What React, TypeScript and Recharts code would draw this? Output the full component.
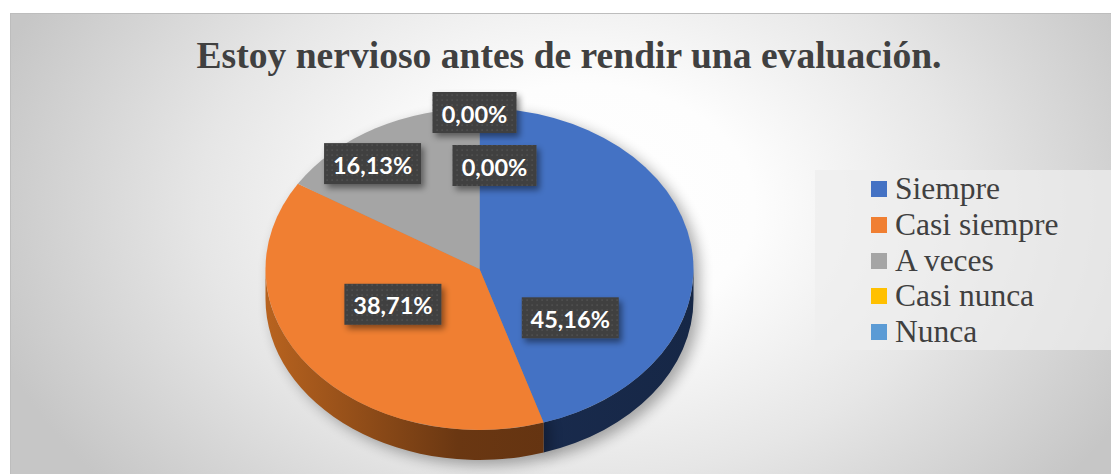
import React from 'react';
import { PieChart, Pie, Legend } from 'recharts';

// ---- data ----
const categories = ['Siempre', 'Casi siempre', 'A veces', 'Casi nunca', 'Nunca'];
const percentages = [45.16, 38.71, 16.13, 0, 0];
const chartTitle = 'Estoy nervioso antes de rendir una evaluación.';

// ---- styles ----
const topColors = ['#4472C4', '#F07F32', '#A5A5A5', '#FFC000', '#5B9BD5'];
const sideStops = [
  ['#22396a', '#1a2c50', '#162746'],
  ['#b8631f', '#6a3712', '#5c2f10'],
  ['#7a7a7a', '#5a5a5a', '#4d4d4d'],
  ['#b38600', '#8a6800', '#7a5c00'],
  ['#3f6d96', '#2f5373', '#284763'],
];
const labelNudge = [
  [-15, 61],
  [-2, -14],
  [-55, -35],
  [-5, -76],
  [15, -23],
];

const W = 1101;
const H = 461;
const CX = 469.5;
const CY = 256;
const RX = 214;
const RY = 161;
const K = RY / RX;
const DEPTH = 30;
const rad = Math.PI / 180;

const data = categories.map((name, i) => ({ name, value: percentages[i] }));

const pt = (cx: number, cy: number, r: number, a: number): [number, number] => [
  cx + r * Math.cos(a * rad),
  cy - r * K * Math.sin(a * rad),
];

const idxOf = (p: any) => {
  const n = p?.payload?.name ?? p?.name;
  return categories.indexOf(n);
};

const sectorPath = (cx: number, cy: number, r: number, s: number, e: number) => {
  const delta = Math.abs(s - e);
  const [x1, y1] = pt(cx, cy, r, s);
  const [x2, y2] = pt(cx, cy, r, e);
  const large = delta > 180 ? 1 : 0;
  const sweep = s > e ? 1 : 0;
  return `M${cx},${cy} L${x1},${y1} A${r},${r * K} 0 ${large} ${sweep} ${x2},${y2} Z`;
};

const renderTop = (props: any) => {
  const { cx, cy, outerRadius, startAngle, endAngle } = props;
  const i = idxOf(props);
  if (Math.abs(startAngle - endAngle) < 1e-6) return <g key={`top-${i}`} />;
  return (
    <path
      key={`top-${i}`}
      d={sectorPath(cx, cy, outerRadius, startAngle, endAngle)}
      fill={topColors[i]}
      stroke="none"
    />
  );
};

const renderSide = (props: any) => {
  const { cx, cy, outerRadius, startAngle, endAngle } = props;
  const i = idxOf(props);
  const lo = Math.min(startAngle, endAngle);
  const hi = Math.max(startAngle, endAngle);
  if (hi - lo < 1e-6) return <g key={`side-${i}`} />;
  const rx = outerRadius;
  const ry = outerRadius * K;
  const paths: string[] = [];
  for (let n = -2; n <= 1; n++) {
    const a = Math.max(lo, -180 + 360 * n);
    const b = Math.min(hi, 360 * n);
    if (b - a > 1e-6) {
      const [bx, by] = pt(cx, cy, rx, b);
      const [ax, ay] = pt(cx, cy, rx, a);
      paths.push(
        `M${bx},${by} A${rx},${ry} 0 0 1 ${ax},${ay} L${ax},${ay + DEPTH} A${rx},${ry} 0 0 0 ${bx},${by + DEPTH} Z`
      );
    }
  }
  const stops = sideStops[i] || ['#555', '#444', '#333'];
  const gid = `side-grad-${i}`;
  const fid = `pie-shadow-${i}`;
  return (
    <g key={`side-${i}`}>
      <defs>
        <linearGradient id={gid} gradientUnits="userSpaceOnUse" x1={cx - rx} y1={0} x2={cx + rx} y2={0}>
          <stop offset="0%" stopColor={stops[0]} />
          <stop offset="45%" stopColor={stops[1]} />
          <stop offset="100%" stopColor={stops[2]} />
        </linearGradient>
        <filter id={fid} x="-30%" y="-30%" width="160%" height="160%">
          <feGaussianBlur stdDeviation="7" />
        </filter>
      </defs>
      <g opacity={0.32} filter={`url(#${fid})`} transform="translate(6,5)">
        <path d={sectorPath(cx, cy, rx, startAngle, endAngle)} fill="#000" />
        <path d={sectorPath(cx, cy + DEPTH, rx, startAngle, endAngle)} fill="#000" />
        {paths.map((d, k) => (
          <path key={k} d={d} fill="#000" />
        ))}
      </g>
      {paths.map((d, k) => (
        <path key={k} d={d} fill={`url(#${gid})`} />
      ))}
    </g>
  );
};

const renderLabel = (props: any) => {
  const { cx, cy, midAngle, outerRadius, value } = props;
  const i = idxOf(props);
  const f = 0.5;
  const nudge = labelNudge[i] || [0, 0];
  const x = cx + f * outerRadius * Math.cos(midAngle * rad) + nudge[0];
  const y = cy - f * outerRadius * K * Math.sin(midAngle * rad) + nudge[1];
  const text = Number(value).toFixed(2).replace('.', ',') + '%';
  const w = 13 * text.length + 19;
  const h = 41;
  const pid = `dots-${i}`;
  const fid = `lbl-shadow-${i}`;
  return (
    <g key={`lbl-${i}`}>
      <defs>
        <pattern id={pid} x={0} y={0} width={5} height={5} patternUnits="userSpaceOnUse">
          <rect x={1.5} y={1.5} width={1.2} height={1.2} fill="#5c5c5c" />
        </pattern>
        <filter id={fid} x="-20%" y="-30%" width="150%" height="170%">
          <feDropShadow dx="3" dy="4" stdDeviation="3" floodColor="#000" floodOpacity="0.45" />
        </filter>
      </defs>
      <rect x={x - w / 2} y={y - h / 2} width={w} height={h} fill="#404040" filter={`url(#${fid})`} />
      <rect x={x - w / 2} y={y - h / 2} width={w} height={h} fill={`url(#${pid})`} />
      <text
        x={x}
        y={y + 1}
        textAnchor="middle"
        dominantBaseline="central"
        fill="#ffffff"
        fontFamily="Lato, 'Open Sans', sans-serif"
        fontWeight={700}
        fontSize={23.5}
      >
        {text}
      </text>
    </g>
  );
};

const renderLegend = (props: any) => {
  const payload = (props.payload || []) as any[];
  const seen = new Set<string>();
  const items = payload
    .filter((p) => {
      if (seen.has(p.value) || categories.indexOf(p.value) < 0) return false;
      seen.add(p.value);
      return true;
    })
    .sort((a, b) => categories.indexOf(a.value) - categories.indexOf(b.value));
  return (
    <div style={{ position: 'relative', width: '100%', height: '100%' }}>
      {items.map((p, k) => (
        <div
          key={p.value}
          style={{
            position: 'absolute',
            left: 56,
            top: 19 + k * 35.75 - 18,
            height: 36,
            display: 'flex',
            alignItems: 'center',
            whiteSpace: 'nowrap',
          }}
        >
          <span
            style={{
              display: 'inline-block',
              width: 16,
              height: 16,
              background: topColors[categories.indexOf(p.value)],
              marginRight: 8,
            }}
          />
          <span
            style={{
              fontFamily: "'Liberation Serif', 'Times New Roman', serif",
              fontSize: 31.5,
              color: '#404040',
              lineHeight: '36px',
            }}
          >
            {p.value}
          </span>
        </div>
      ))}
    </div>
  );
};

const commonPie = {
  data,
  dataKey: 'value',
  nameKey: 'name',
  cx: CX,
  cy: CY,
  outerRadius: RX,
  startAngle: 90,
  endAngle: -270,
  fill: 'none',
  stroke: 'none',
  isAnimationActive: false,
  labelLine: false,
};

export default function App() {
  return (
    <div
      style={{
        position: 'fixed',
        left: 0,
        top: 0,
        width: 1111,
        height: 474,
        background: '#ffffff',
        overflow: 'hidden',
      }}
    >
      <div
        style={{
          position: 'absolute',
          left: 10,
          top: 13,
          width: W,
          height: H,
          background:
            'radial-gradient(ellipse 56% 95% at 52% 42%, #ffffff 0%, #fdfdfd 28%, #e6e6e6 62%, #c6c6c6 100%)',
          boxShadow: 'inset 1px 1px 0 #bdbdbd',
        }}
      >
        <div
          style={{
            position: 'absolute',
            left: 8.5,
            top: 24,
            width: W,
            textAlign: 'center',
            fontFamily: "'Liberation Serif', 'Times New Roman', serif",
            fontWeight: 700,
            fontSize: 37.6,
            lineHeight: '37px',
            color: '#404040',
            whiteSpace: 'nowrap',
          }}
        >
          {chartTitle}
        </div>
        <div style={{ position: 'absolute', left: 0, top: 0 }}>
          <PieChart width={W} height={H} margin={{ top: 0, right: 0, bottom: 0, left: 0 }}>
            <Pie {...commonPie} legendType="none" label={renderSide} />
            <Pie {...commonPie} legendType="square" label={renderTop} />
            <Pie {...commonPie} legendType="none" label={renderLabel} />
            <Legend
              layout="vertical"
              align="right"
              verticalAlign="top"
              content={renderLegend}
              wrapperStyle={{
                position: 'absolute',
                left: 805,
                top: 157,
                width: 296,
                height: 180,
                background: 'rgba(238,238,238,0.7)',
              }}
            />
          </PieChart>
        </div>
      </div>
    </div>
  );
}
